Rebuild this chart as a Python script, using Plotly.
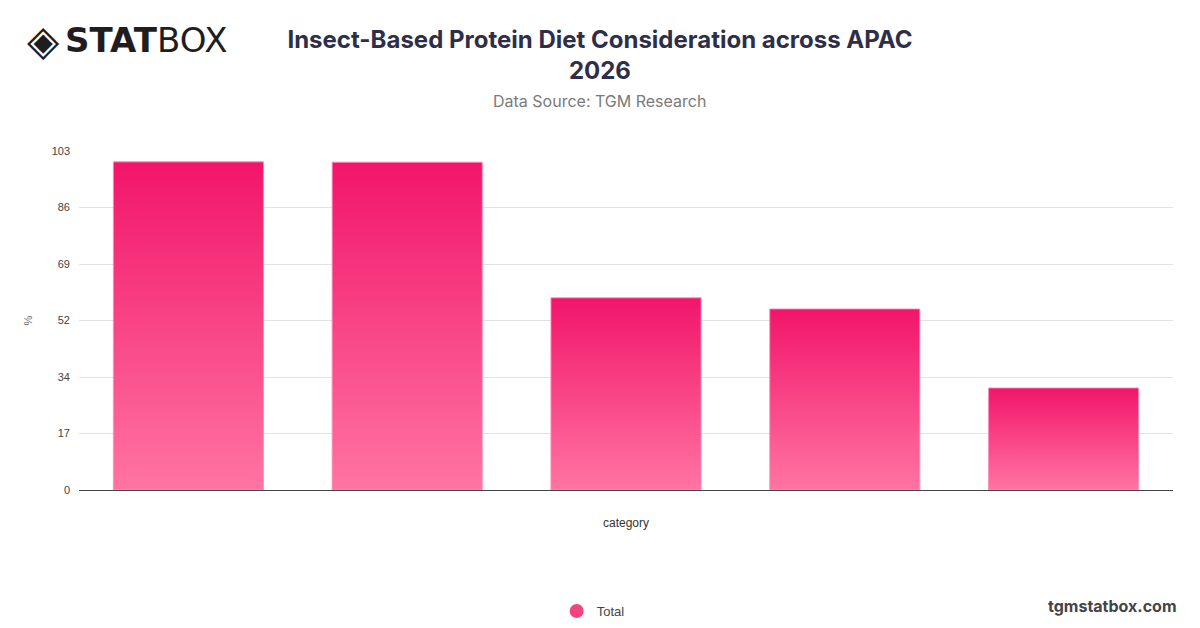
import plotly.graph_objects as go

categories = ["Category 1", "Category 2", "Category 3", "Category 4", "Category 5"]
values = [99.7, 99.6, 58.4, 55.0, 31.0]
series_name = "Total"
tick_values = [0, 103 / 6, 2 * 103 / 6, 3 * 103 / 6, 4 * 103 / 6, 5 * 103 / 6, 103]
tick_labels = ["0", "17", "34", "52", "69", "86", "103"]

BAR_WIDTH = 0.686
TOP_COLOR = "#F2156A"
BOTTOM_COLOR = "#FF74A2"

fig = go.Figure()

for i, (cat, v) in enumerate(zip(categories, values)):
    x0, x1 = i - BAR_WIDTH / 2, i + BAR_WIDTH / 2
    fig.add_trace(go.Scatter(
        x=[x0, x1, x1, x0, x0],
        y=[0, 0, v, v, 0],
        mode="lines",
        fill="toself",
        fillgradient=dict(type="vertical",
                          colorscale=[[0, BOTTOM_COLOR], [1, TOP_COLOR]]),
        line=dict(color="rgba(255,140,185,0.9)", width=1),
        name=cat,
        showlegend=False,
        hoverinfo="skip",
    ))

# legend entry
fig.add_trace(go.Scatter(
    x=[None], y=[None], mode="markers", name=series_name,
    marker=dict(symbol="circle", size=14, color="#F4447F"),
))

fig.update_layout(
    width=1200, height=628,
    margin=dict(l=71, r=35, t=143, b=145),
    paper_bgcolor="white", plot_bgcolor="white",
    font=dict(family="Liberation Sans, Arial, sans-serif", color="#444"),
    title=dict(
        text="<b>Insect-Based Protein Diet Consideration across APAC<br>2026</b>",
        x=0.4933, xanchor="center", y=0.936, yanchor="top",
        font=dict(family="Inter, sans-serif", size=24, color="#2E2E48"),
    ),
    xaxis=dict(
        range=[-0.5, len(categories) - 0.5],
        showticklabels=False, showgrid=False, zeroline=False,
        showline=True, linecolor="#444", linewidth=1,
        title=dict(text="category", font=dict(size=12, color="#333"), standoff=28),
        fixedrange=True,
    ),
    yaxis=dict(
        range=[0, 103],
        tickvals=tick_values, ticktext=tick_labels,
        tickfont=dict(size=11, color="#444"),
        gridcolor="#E2E2E2", zeroline=False, showline=False,
        ticks="", ticklabelstandoff=8,
        title=dict(text="%", font=dict(size=11, color="#666"), standoff=16),
    ),
    legend=dict(
        orientation="h", x=0.47, xanchor="center", y=-0.353, yanchor="middle",
        font=dict(size=13, color="#444"),
    ),
    showlegend=True,
)

fig.add_annotation(
    text="Data Source: TGM Research", xref="paper", yref="paper",
    x=0.476, y=1.0, yanchor="bottom", yshift=38, xanchor="center", showarrow=False,
    font=dict(family="Inter, sans-serif", size=16, color="#7A7A7A"),
)
# logo
fig.add_annotation(
    text="◈", xref="paper", yref="paper", x=0, y=1.0, xanchor="left",
    yanchor="middle", xshift=-54, yshift=111, showarrow=False,
    font=dict(family="DejaVu Sans", size=42, color="#1E1E1E"),
)
fig.add_annotation(
    text="<b>STAT</b>BOX", xref="paper", yref="paper", x=0, y=1.0,
    xanchor="left", yanchor="middle", xshift=-16, yshift=111, showarrow=False,
    font=dict(family="DejaVu Sans", size=34, color="#1E1E1E"),
)
fig.add_annotation(
    text="<b>tgmstatbox.com</b>", xref="paper", yref="paper", x=1.0, y=-0.341,
    xanchor="right", yanchor="middle", showarrow=False, xshift=6,
    font=dict(family="Inter, sans-serif", size=16, color="#444"),
)

fig.write_html("out.html")
